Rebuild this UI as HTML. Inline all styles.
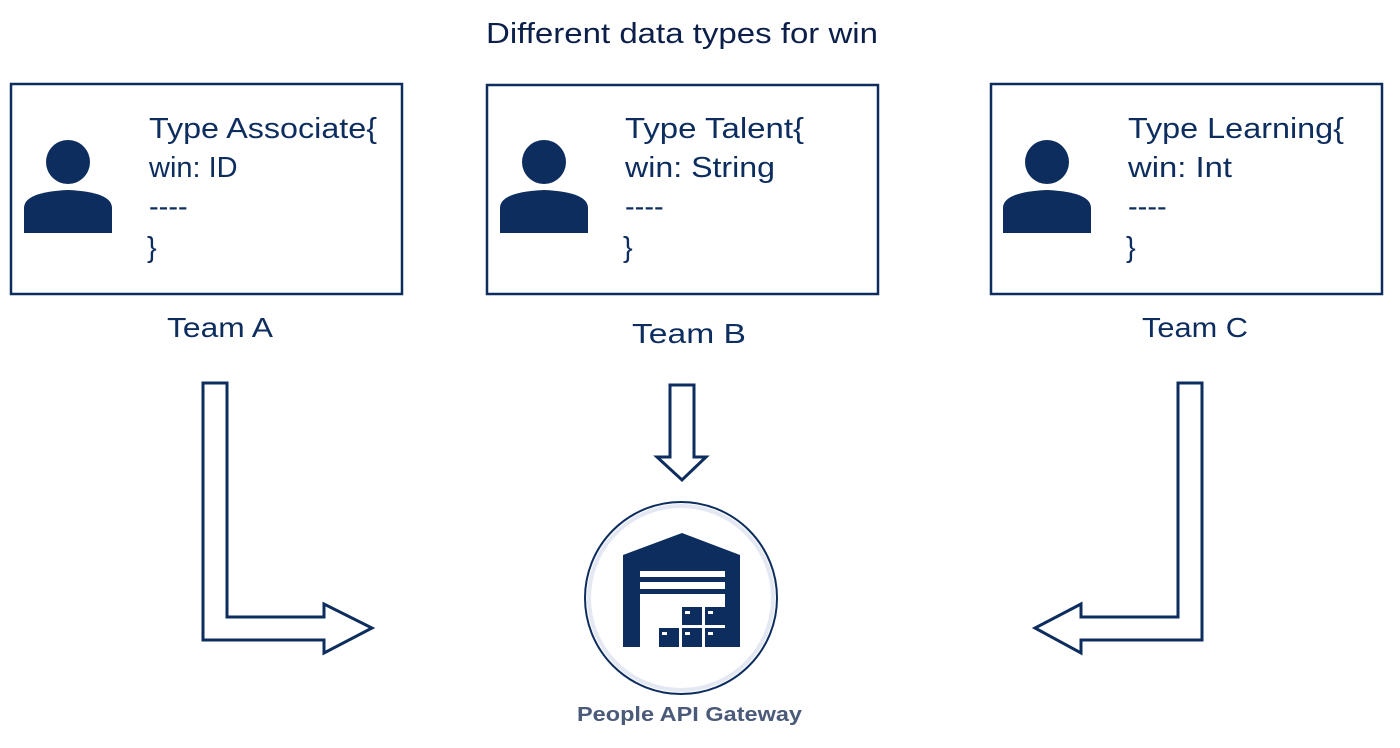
<!DOCTYPE html>
<html><head><meta charset="utf-8"><style>
html,body{margin:0;padding:0;background:#fff;}
svg{display:block;}
</style></head><body>
<svg width="1400" height="748" viewBox="0 0 1400 748" xmlns="http://www.w3.org/2000/svg" font-family="Liberation Sans, sans-serif">
<text x="486" y="43" font-size="29" fill="#0b1f4a" textLength="392" lengthAdjust="spacingAndGlyphs">Different data types for win</text>

<g fill="none" stroke="#0d2d5f" stroke-width="2.5">
<rect x="11" y="84" width="391" height="210"/>
<rect x="487" y="85" width="391" height="209"/>
<rect x="991" y="84" width="391" height="210"/>
</g>

<g fill="#0d2d5f">
<circle cx="68" cy="162" r="22"/>
<path d="M24 233 V208 Q24 192 68 190 Q112 192 112 208 V233 Z"/>
<circle cx="544" cy="162" r="22"/>
<path d="M500 233 V208 Q500 192 544 190 Q588 192 588 208 V233 Z"/>
<circle cx="1047" cy="162" r="22"/>
<path d="M1003 233 V208 Q1003 192 1047 190 Q1091 192 1091 208 V233 Z"/>
</g>

<g font-size="29" fill="#0d2d5f">
<text x="149" y="138" textLength="228" lengthAdjust="spacingAndGlyphs">Type Associate{</text>
<text x="149" y="177">win: ID</text>
<text x="149" y="216">----</text>
<text x="147" y="257">}</text>
<text x="625" y="138" textLength="179" lengthAdjust="spacingAndGlyphs">Type Talent{</text>
<text x="625" y="177" textLength="150" lengthAdjust="spacingAndGlyphs">win: String</text>
<text x="625" y="216">----</text>
<text x="623" y="257">}</text>
<text x="1128" y="138" textLength="216" lengthAdjust="spacingAndGlyphs">Type Learning{</text>
<text x="1128" y="177" textLength="104" lengthAdjust="spacingAndGlyphs">win: Int</text>
<text x="1128" y="216">----</text>
<text x="1126" y="257">}</text>
</g>

<g font-size="28" fill="#0d2d5f">
<text x="167" y="337" textLength="106" lengthAdjust="spacingAndGlyphs">Team A</text>
<text x="632" y="343" textLength="114" lengthAdjust="spacingAndGlyphs">Team B</text>
<text x="1142" y="337" textLength="106" lengthAdjust="spacingAndGlyphs">Team C</text>
</g>

<g fill="#fff" stroke="#0d2d5f" stroke-width="3" stroke-linejoin="miter">
<path d="M203 383 H227 V617 H324 V604 L372 628 L324 653 V640 H203 Z"/>
<path d="M670 385 H694 V457 H706 L682 480 L657 457 H670 Z"/>
<path d="M1202 383 H1178 V617 H1081 V604 L1035 628 L1081 653 V640 H1202 Z"/>
</g>

<circle cx="681" cy="598" r="96" fill="#fff" stroke="#0d2d5f" stroke-width="2"/>
<circle cx="681" cy="598" r="92" fill="none" stroke="#e3e8f2" stroke-width="4"/>
<g fill="#0d2d5f">
<path d="M623 555 L682 533 L740 555 V647 H725 V571 H640 V647 H623 Z"/>
<rect x="639" y="577" width="86" height="5"/>
<rect x="639" y="589" width="86" height="5"/>
<rect x="682" y="607" width="20" height="18"/>
<rect x="705" y="607" width="20" height="18"/>
<rect x="659" y="628" width="20" height="19"/>
<rect x="682" y="628" width="20" height="19"/>
<rect x="705" y="628" width="20" height="19"/>
</g>
<g fill="#fff">
<rect x="685" y="611" width="5" height="3"/><rect x="708" y="611" width="5" height="3"/>
<rect x="662" y="632" width="5" height="3"/><rect x="685" y="632" width="5" height="3"/><rect x="708" y="632" width="5" height="3"/>
</g>
<text x="577" y="721" font-size="20" font-weight="bold" fill="#4a5a78" textLength="225" lengthAdjust="spacingAndGlyphs">People API Gateway</text>
</svg>
</body></html>
